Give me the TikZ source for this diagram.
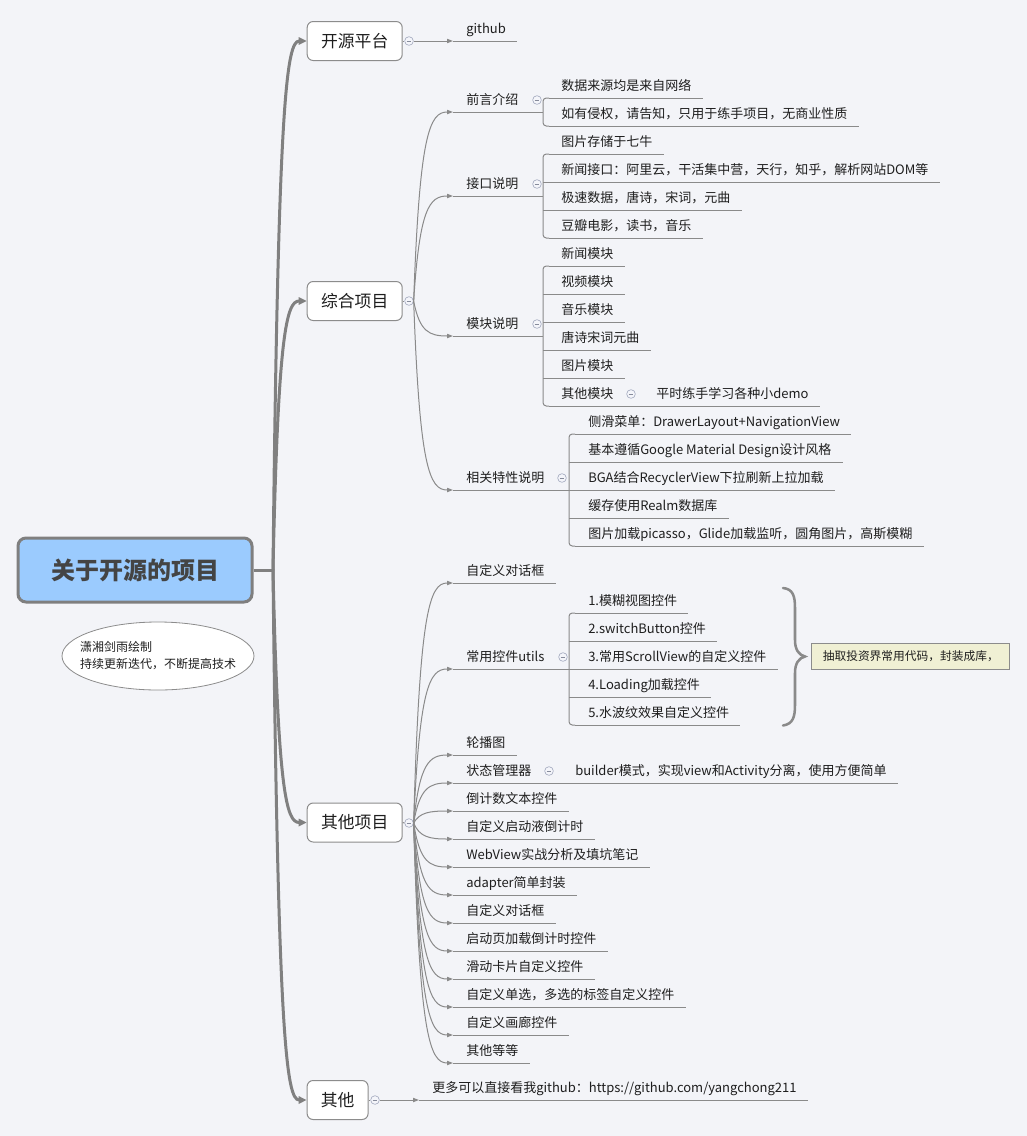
\documentclass[tikz,border=0pt]{standalone}
\usepackage{fontspec}
\setmainfont{Noto Sans CJK SC}
\usetikzlibrary{arrows.meta,calc,shapes.geometric}
\definecolor{bg}{HTML}{F3F4F8}
\definecolor{mgray}{HTML}{808080}
\definecolor{sgray}{HTML}{8A8A8A}
\definecolor{bgray}{HTML}{8C8C8C}
\definecolor{cgray}{HTML}{A8AEC2}
\definecolor{cfill}{HTML}{F4F5FA}
\definecolor{txt}{HTML}{1E1E1E}
\definecolor{rootfill}{HTML}{9BCBFE}
\definecolor{rootline}{HTML}{7F7F7F}
\definecolor{roottxt}{HTML}{444444}
\definecolor{notefill}{HTML}{F0F0D4}

\newcommand\cconn[3][]{%
  \draw[#1] let \p1=(#2), \p2=(#3) in (\p1) .. controls ({\x1+0.15*(\x2-\x1)},{\y1+0.88*(\y2-\y1)}) and ({\x1+0.4*(\x2-\x1)},{\y2}) .. (\p2);}
\newcommand\lf[5]{\node[lt] (#1) at (#3,{#2-7.5}) {#5}; \draw[ul] (#4,#2) -- ($(#1.base east)+(11,7.5)$);}
\newcommand\lfp[6]{\node[lt] (#1) at (#3,{#2-7.5}) {#6}; \draw[ul] (#4,#2) -- (#5,#2);}
\newcommand\brk[3]{\draw[ul,rounded corners=2.5pt] ({#1+6},#2) -- (#1,#2) -- (#1,#3) -- ({#1+6},#3);}

\begin{document}
\begin{tikzpicture}[x=0.75pt,y=-0.75pt,
  mainline/.style={draw=mgray, line width=2.25pt, -{Triangle[length=6pt,width=5.5pt]}},
  mainplain/.style={draw=mgray, line width=2.25pt},
  subline/.style={draw=sgray, line width=0.75pt, -{Triangle[length=4.5pt,width=3.2pt]}},
  ul/.style={draw=sgray, line width=0.75pt},
  mbox/.style={draw=bgray, fill=white, rounded corners=4.5pt, line width=0.75pt,
    minimum width=71.25pt, minimum height=29.25pt, inner sep=0pt,
    font=\fontsize{12.6pt}{14pt}\selectfont, text=txt},
  lt/.style={anchor=base west, inner sep=0pt, font=\fontsize{9.75pt}{11pt}\selectfont, text=txt},
  coll/.style={circle, draw=cgray, fill=cfill, minimum size=6.5pt, inner sep=0pt, line width=0.5pt,
    path picture={\draw[cgray!80!black,line width=0.5pt] ([xshift=-1.8pt]path picture bounding box.center) -- ([xshift=1.8pt]path picture bounding box.center);}}
]
\useasboundingbox (0,0) rectangle (1027,1136);
\fill[bg] (0,0) rectangle (1027,1136);

% root and signature
\node[draw=rootline, line width=2.25pt, fill=rootfill, rounded corners=6pt,
  minimum width=175.5pt, minimum height=48pt,
  font=\fontsize{18pt}{20pt}\selectfont\bfseries, text=roottxt] (root) at (135,570) {关于开源的项目};
\node[ellipse, draw=bgray, fill=white, line width=0.6pt, minimum width=144pt, minimum height=51pt,
  inner sep=0pt] (sig) at (158,656) {};
\node[align=left, inner sep=0pt, font=\fontsize{9pt}{12.75pt}\selectfont, text=txt] (sigtxt) at (sig.center)
  {潇湘剑雨绘制\\持续更新迭代，不断提高技术};

% main topics
\node[mbox] (kyp) at (354.7,41) {开源平台};
\node[mbox] (zh) at (354.7,301) {综合项目};
\node[mbox] (qt) at (354.7,822.5) {其他项目};
\node[mbox, minimum width=45.75pt] (qo) at (337.6,1100) {其他};

\coordinate (trunk) at (273,570);
\draw[mainplain] (root.east) -- (trunk);
\cconn[mainline]{trunk}{kyp.west}
\cconn[mainline]{trunk}{zh.west}
\cconn[mainline]{trunk}{qt.west}
\cconn[mainline]{trunk}{qo.west}

% collapse circles of main topics
\node[coll] (ckyp) at (409,41) {};
\node[coll] (czh) at (409,301) {};
\node[coll] (cqt) at (409,823) {};
\node[coll] (cqo) at (375,1100) {};
\draw[ul] (kyp.east) -- (ckyp.west);
\draw[ul] (zh.east) -- (czh.west);
\draw[ul] (qt.east) -- (cqt.west);
\draw[ul] (qo.east) -- (cqo.west);

% ---- 开源平台
\coordinate (ghin) at (453,41);
\draw[subline] (ckyp.east) -- (ghin);
\lf{gh}{41}{466}{453}{github}

% ---- 综合项目
\coordinate (qyin) at (453,112);
\coordinate (jkin) at (453,196);
\coordinate (mkin) at (453,336);
\coordinate (xgin) at (453,490);
\cconn[subline]{czh.east}{qyin}
\cconn[subline]{czh.east}{jkin}
\cconn[subline]{czh.east}{mkin}
\cconn[subline]{czh.east}{xgin}

\lfp{qy}{112}{466}{453}{543}{前言介绍}
\node[coll] (cqy) at (537,100) {};
\brk{543}{98}{126}
\lf{qy1}{98}{561}{549}{数据来源均是来自网络}
\lf{qy2}{126}{561}{549}{如有侵权，请告知，只用于练手项目，无商业性质}

\lfp{jk}{196}{466}{453}{543}{接口说明}
\node[coll] (cjk) at (537,184) {};
\brk{543}{154}{238}
\lf{jk1}{154}{561}{549}{图片存储于七牛}
\lf{jk2}{182}{561}{543}{新闻接口：阿里云，干活集中营，天行，知乎，解析网站DOM等}
\lf{jk3}{210}{561}{543}{极速数据，唐诗，宋词，元曲}
\lf{jk4}{238}{561}{549}{豆瓣电影，读书，音乐}

\lfp{mk}{336}{466}{453}{543}{模块说明}
\node[coll] (cmk) at (537,324) {};
\brk{543}{266}{406}
\lf{mk1}{266}{561}{549}{新闻模块}
\lf{mk2}{294}{561}{543}{视频模块}
\lf{mk3}{322}{561}{543}{音乐模块}
\lf{mk4}{350}{561}{543}{唐诗宋词元曲}
\lf{mk5}{378}{561}{543}{图片模块}
\lfp{mk6}{406}{561}{549}{643}{其他模块}
\node[coll] (cmk6) at (631,394) {};
\lf{mk61}{406}{656}{643}{平时练手学习各种小demo}

\lfp{xg}{490}{466}{453}{569}{相关特性说明}
\node[coll] (cxg) at (562,478) {};
\brk{569}{434}{546}
\lf{xg1}{434}{588}{575}{侧滑菜单：DrawerLayout+NavigationView}
\lf{xg2}{462}{588}{569}{基本遵循Google Material Design设计风格}
\lf{xg3}{490}{588}{569}{BGA结合RecyclerView下拉刷新上拉加载}
\lf{xg4}{518}{588}{569}{缓存使用Realm数据库}
\lf{xg5}{546}{588}{575}{图片加载picasso，Glide加载监听，圆角图片，高斯模糊}

% ---- 其他项目
\foreach \yy/\nm in {583/a,669/b,755/c,783/d,811/e,839/f,867/g,895/h,923/i,951/j,979/k,1007/l,1035/m,1063/n}{
  \coordinate (qin\nm) at (453,\yy);
  \cconn[subline]{cqt.east}{qin\nm}
}
\lf{qa}{583}{466}{453}{自定义对话框}
\lfp{qb}{669}{466}{453}{569}{常用控件utils}
\node[coll] (cqb) at (563,657) {};
\brk{569}{613}{725}
\lf{qb1}{613}{588}{575}{1.模糊视图控件}
\lf{qb2}{641}{588}{569}{2.switchButton控件}
\lf{qb3}{669}{588}{569}{3.常用ScrollView的自定义控件}
\lf{qb4}{697}{588}{569}{4.Loading加载控件}
\lf{qb5}{725}{588}{575}{5.水波纹效果自定义控件}

% brace and note
\draw[draw=sgray, line width=1.9pt, line cap=round]
  (783,588) .. controls (793,589) and (795,596) .. (795,608) -- (795,640)
  .. controls (795,650) and (799,655) .. (805,656.5)
  .. controls (799,658) and (795,663) .. (795,673) -- (795,705)
  .. controls (795,717) and (793,724) .. (783,725.5);
\node[draw=bgray, fill=notefill, line width=0.6pt, minimum width=148.5pt, minimum height=19.5pt,
  inner sep=0pt, font=\fontsize{8.8pt}{10pt}\selectfont, text=txt] (note) at (910.8,656.3) {抽取投资界常用代码，封装成库，};

\lf{qc}{755}{466}{453}{轮播图}
\lfp{qd}{783}{466}{453}{562}{状态管理器}
\node[coll] (cqd) at (549,771) {};
\lf{qd1}{783}{575}{562}{builder模式，实现view和Activity分离，使用方便简单}
\lf{qe}{811}{466}{453}{倒计数文本控件}
\lf{qf}{839}{466}{453}{自定义启动液倒计时}
\lf{qg}{867}{466}{453}{WebView实战分析及填坑笔记}
\lf{qh}{895}{466}{453}{adapter简单封装}
\lf{qi}{923}{466}{453}{自定义对话框}
\lf{qj}{951}{466}{453}{启动页加载倒计时控件}
\lf{qk}{979}{466}{453}{滑动卡片自定义控件}
\lf{ql}{1007}{466}{453}{自定义单选，多选的标签自定义控件}
\lf{qm}{1035}{466}{453}{自定义画廊控件}
\lf{qn}{1063}{466}{453}{其他等等}

% ---- 其他
\coordinate (qoin) at (419,1100);
\draw[subline] (cqo.east) -- (qoin);
\lf{qo1}{1100}{432}{419}{更多可以直接看我github：https://github.com/yangchong211}

\end{tikzpicture}
\end{document}
